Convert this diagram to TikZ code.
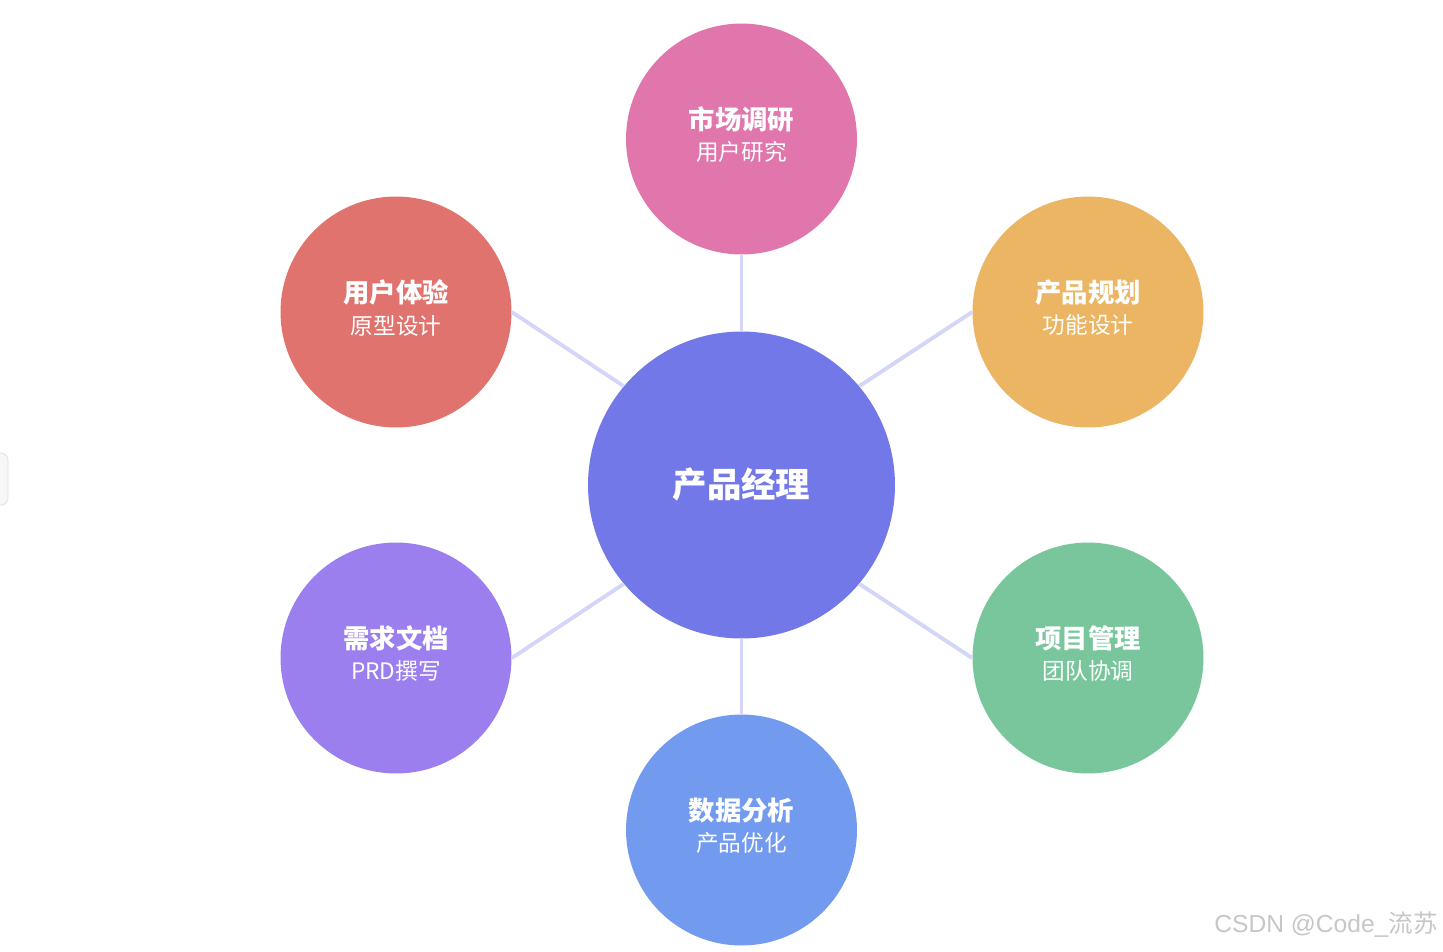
\documentclass[tikz,border=0pt]{standalone}
\usepackage{fontspec}
\usepackage{xcolor}
\usepackage{tikz}
\usetikzlibrary{positioning}
\setmainfont{Noto Sans CJK SC}
\newfontfamily\markfont{Liberation Sans}

\definecolor{pmblue}{HTML}{7378E8}
\definecolor{marketpink}{HTML}{E076AC}
\definecolor{uxred}{HTML}{E0736D}
\definecolor{planorange}{HTML}{ECB563}
\definecolor{prdpurple}{HTML}{9C7FEF}
\definecolor{projgreen}{HTML}{79C69D}
\definecolor{datablue}{HTML}{729BF0}
\definecolor{linklav}{HTML}{D4D6F8}

\begin{document}
\begin{tikzpicture}[
    x=0.02cm, y=-0.02cm,
    hub/.style={circle, fill=pmblue, minimum size=6.14cm, inner sep=0pt, text=white, text depth=3pt, font=\fontsize{19.6}{22}\selectfont\bfseries},
    topic/.style={circle, minimum size=4.62cm, inner sep=0pt, text=white, align=center, text depth=6pt, font=\fontsize{15}{18}\selectfont},
    link/.style={draw=linklav, line width=2.2pt}
]
\useasboundingbox[fill=white] (0,0) rectangle (1443,951);

\node[hub] (pm) at (741.5,485) {产品经理};
\node[topic, fill=marketpink] (market) at (741.5,139) {\textbf{市场调研}\\{\fontsize{12.9}{18}\selectfont 用户研究}};
\node[topic, fill=uxred] (ux) at (396,312) {\textbf{用户体验}\\{\fontsize{12.9}{18}\selectfont 原型设计}};
\node[topic, fill=planorange] (plan) at (1088,312) {\textbf{产品规划}\\{\fontsize{12.9}{18}\selectfont 功能设计}};
\node[topic, fill=prdpurple] (prd) at (396,658) {\textbf{需求文档}\\{\fontsize{12.9}{18}\selectfont PRD撰写}};
\node[topic, fill=projgreen] (project) at (1088,658) {\textbf{项目管理}\\{\fontsize{12.9}{18}\selectfont 团队协调}};
\node[topic, fill=datablue] (data) at (741.5,830) {\textbf{数据分析}\\{\fontsize{12.9}{18}\selectfont 产品优化}};

\draw[link] (pm.north) -- (market.south);
\draw[link] (pm.140) -- (ux.east);
\draw[link] (pm.40) -- (plan.west);
\draw[link] (pm.220) -- (prd.east);
\draw[link] (pm.320) -- (project.west);
\draw[link] (pm.south) -- (data.north);

% left edge tab and watermark
\node[draw=black!12, fill=black!3, rounded corners=4pt, minimum width=0.32cm, minimum height=1.04cm, inner sep=0pt] (tab) at (0,479) {};
\node[anchor=east, text=black!22, inner sep=0pt, font=\fontsize{14}{16}\selectfont] (mark) at (1438,925) {{\markfont CSDN @Code\_}流苏};
\end{tikzpicture}
\end{document}
